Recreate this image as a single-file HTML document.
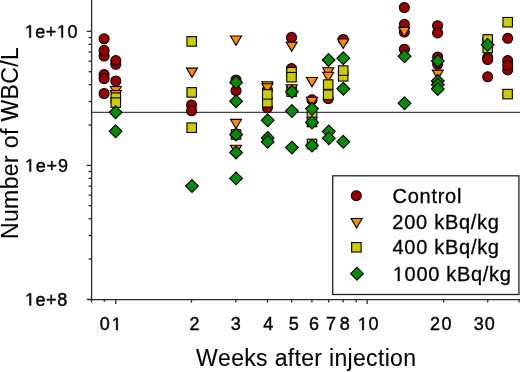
<!DOCTYPE html>
<html><head><meta charset="utf-8"><title>WBC</title>
<style>
html,body{margin:0;padding:0;background:#fff;}
body{width:520px;height:372px;overflow:hidden;font-family:"Liberation Sans",sans-serif;}
svg{display:block;will-change:transform;}
</style></head><body>
<svg width="520" height="372" viewBox="0 0 520 372" font-family="&quot;Liberation Sans&quot;, sans-serif" fill="#000" style="font-kerning:none"><g stroke="#2a2a2a" stroke-width="1.3" fill="none"><line x1="91.6" y1="0" x2="91.6" y2="302.6" /><line x1="87" y1="299.6" x2="520" y2="299.6" /><line x1="86.8" y1="299.40" x2="91.6" y2="299.40" /><line x1="86.8" y1="165.40" x2="91.6" y2="165.40" /><line x1="86.8" y1="31.40" x2="91.6" y2="31.40" /><line x1="88.6" y1="259.06" x2="91.6" y2="259.06" /><line x1="88.6" y1="235.47" x2="91.6" y2="235.47" /><line x1="88.6" y1="218.72" x2="91.6" y2="218.72" /><line x1="88.6" y1="205.74" x2="91.6" y2="205.74" /><line x1="88.6" y1="195.13" x2="91.6" y2="195.13" /><line x1="88.6" y1="186.16" x2="91.6" y2="186.16" /><line x1="88.6" y1="178.39" x2="91.6" y2="178.39" /><line x1="88.6" y1="171.53" x2="91.6" y2="171.53" /><line x1="88.6" y1="125.06" x2="91.6" y2="125.06" /><line x1="88.6" y1="101.47" x2="91.6" y2="101.47" /><line x1="88.6" y1="84.72" x2="91.6" y2="84.72" /><line x1="88.6" y1="71.74" x2="91.6" y2="71.74" /><line x1="88.6" y1="61.13" x2="91.6" y2="61.13" /><line x1="88.6" y1="52.16" x2="91.6" y2="52.16" /><line x1="88.6" y1="44.39" x2="91.6" y2="44.39" /><line x1="88.6" y1="37.53" x2="91.6" y2="37.53" /><line x1="104.3" y1="299.6" x2="104.3" y2="301.80" /><line x1="115.8" y1="299.6" x2="115.8" y2="304.10" /><line x1="191.5" y1="299.6" x2="191.5" y2="302.60" /><line x1="235.8" y1="299.6" x2="235.8" y2="302.60" /><line x1="267.5" y1="299.6" x2="267.5" y2="302.60" /><line x1="291.7" y1="299.6" x2="291.7" y2="302.60" /><line x1="311.9" y1="299.6" x2="311.9" y2="302.60" /><line x1="328.7" y1="299.6" x2="328.7" y2="302.60" /><line x1="343.1" y1="299.6" x2="343.1" y2="302.60" /><line x1="356.2" y1="299.6" x2="356.2" y2="302.60" /><line x1="367.1" y1="299.6" x2="367.1" y2="304.10" /><line x1="443.7" y1="299.6" x2="443.7" y2="302.60" /><line x1="487.7" y1="299.6" x2="487.7" y2="302.60" /><line x1="519.0" y1="299.6" x2="519.0" y2="302.60" /></g><line x1="91.6" y1="112.4" x2="520" y2="112.4" stroke="#444" stroke-width="1.1"/><g stroke="#000" stroke-width="1.1"><circle cx="104.1" cy="38.8" r="5.0" fill="#990000"/><circle cx="104.1" cy="56.0" r="5.0" fill="#990000"/><circle cx="104.1" cy="50.4" r="5.0" fill="#990000"/><circle cx="104.1" cy="74.6" r="5.0" fill="#990000"/><circle cx="104.1" cy="78.6" r="5.0" fill="#990000"/><circle cx="104.1" cy="93.5" r="5.0" fill="#990000"/><circle cx="115.8" cy="64.3" r="5.0" fill="#990000"/><circle cx="115.8" cy="60.6" r="5.0" fill="#990000"/><circle cx="115.8" cy="81.0" r="5.0" fill="#990000"/><circle cx="191.6" cy="105.0" r="5.0" fill="#990000"/><circle cx="191.6" cy="110.8" r="5.0" fill="#990000"/><circle cx="236.0" cy="80.0" r="5.0" fill="#990000"/><circle cx="236.0" cy="90.6" r="5.0" fill="#990000"/><circle cx="267.4" cy="90.0" r="5.0" fill="#990000"/><circle cx="267.4" cy="107.8" r="5.0" fill="#990000"/><circle cx="291.5" cy="37.4" r="5.0" fill="#990000"/><circle cx="291.5" cy="68.6" r="5.0" fill="#990000"/><circle cx="312.0" cy="99.8" r="5.0" fill="#990000"/><circle cx="328.2" cy="98.7" r="5.0" fill="#990000"/><circle cx="343.2" cy="39.5" r="5.0" fill="#990000"/><circle cx="404.3" cy="7.6" r="5.0" fill="#990000"/><circle cx="404.3" cy="24.3" r="5.0" fill="#990000"/><circle cx="404.3" cy="32.0" r="5.0" fill="#990000"/><circle cx="404.4" cy="49.2" r="5.0" fill="#990000"/><circle cx="437.6" cy="25.7" r="5.0" fill="#990000"/><circle cx="437.6" cy="32.9" r="5.0" fill="#990000"/><circle cx="437.7" cy="57.0" r="5.0" fill="#990000"/><circle cx="437.7" cy="64.3" r="5.0" fill="#990000"/><circle cx="487.7" cy="39.5" r="5.0" fill="#990000"/><circle cx="487.7" cy="57.5" r="5.0" fill="#990000"/><circle cx="487.7" cy="59.5" r="5.0" fill="#990000"/><circle cx="487.7" cy="76.8" r="5.0" fill="#990000"/><circle cx="507.7" cy="38.3" r="5.0" fill="#990000"/><circle cx="507.7" cy="60.6" r="5.0" fill="#990000"/><circle cx="507.7" cy="69.9" r="5.0" fill="#990000"/><circle cx="507.7" cy="65.3" r="5.0" fill="#990000"/><rect x="286.85" y="86.85" width="9.5" height="9.5" fill="#CCCC00"/><path d="M110.30,86.50L121.30,86.50L115.8,95.80Z" fill="#FF8A00"/><path d="M110.30,90.50L121.30,90.50L115.8,99.80Z" fill="#FF8A00"/><path d="M186.50,68.10L197.50,68.10L192.0,77.40Z" fill="#FF8A00"/><path d="M230.50,36.00L241.50,36.00L236.0,45.30Z" fill="#FF8A00"/><path d="M230.50,119.40L241.50,119.40L236.0,128.70Z" fill="#FF8A00"/><path d="M230.50,145.20L241.50,145.20L236.0,154.50Z" fill="#FF8A00"/><path d="M261.90,81.70L272.90,81.70L267.4,91.00Z" fill="#FF8A00"/><path d="M261.90,83.70L272.90,83.70L267.4,93.00Z" fill="#FF8A00"/><path d="M286.20,42.10L297.20,42.10L291.7,51.40Z" fill="#FF8A00"/><path d="M286.20,84.80L297.20,84.80L291.7,94.10Z" fill="#FF8A00"/><path d="M306.50,77.50L317.50,77.50L312.0,86.80Z" fill="#FF8A00"/><path d="M306.50,97.20L317.50,97.20L312.0,106.50Z" fill="#FF8A00"/><path d="M322.70,67.80L333.70,67.80L328.2,77.10Z" fill="#FF8A00"/><path d="M322.70,72.30L333.70,72.30L328.2,81.60Z" fill="#FF8A00"/><path d="M337.70,39.00L348.70,39.00L343.2,48.30Z" fill="#FF8A00"/><path d="M398.80,27.40L409.80,27.40L404.3,36.70Z" fill="#FF8A00"/><path d="M432.30,70.10L443.30,70.10L437.8,79.40Z" fill="#FF8A00"/><rect x="111.05" y="92.95" width="9.5" height="9.5" fill="#CCCC00"/><rect x="111.05" y="97.85" width="9.5" height="9.5" fill="#CCCC00"/><rect x="186.95" y="36.65" width="9.5" height="9.5" fill="#CCCC00"/><rect x="186.95" y="87.65" width="9.5" height="9.5" fill="#CCCC00"/><rect x="186.95" y="122.95" width="9.5" height="9.5" fill="#CCCC00"/><rect x="231.25" y="129.75" width="9.5" height="9.5" fill="#CCCC00"/><rect x="262.55" y="97.55" width="9.5" height="9.5" fill="#CCCC00"/><rect x="262.55" y="89.65" width="9.5" height="9.5" fill="#CCCC00"/><rect x="286.75" y="67.45" width="9.5" height="9.5" fill="#CCCC00"/><rect x="286.75" y="72.45" width="9.5" height="9.5" fill="#CCCC00"/><rect x="307.25" y="108.75" width="9.5" height="9.5" fill="#CCCC00"/><rect x="307.25" y="117.25" width="9.5" height="9.5" fill="#CCCC00"/><rect x="307.25" y="139.25" width="9.5" height="9.5" fill="#CCCC00"/><rect x="323.45" y="79.85" width="9.5" height="9.5" fill="#CCCC00"/><rect x="323.45" y="89.95" width="9.5" height="9.5" fill="#CCCC00"/><rect x="338.45" y="71.55" width="9.5" height="9.5" fill="#CCCC00"/><rect x="338.45" y="65.85" width="9.5" height="9.5" fill="#CCCC00"/><rect x="482.95" y="34.75" width="9.5" height="9.5" fill="#CCCC00"/><rect x="482.95" y="43.25" width="9.5" height="9.5" fill="#CCCC00"/><rect x="502.95" y="17.45" width="9.5" height="9.5" fill="#CCCC00"/><rect x="502.85" y="89.35" width="9.5" height="9.5" fill="#CCCC00"/><path d="M115.6,105.90L122.00,112.3L115.6,118.70L109.20,112.3Z" fill="#078C07"/><path d="M115.6,124.90L122.00,131.3L115.6,137.70L109.20,131.3Z" fill="#078C07"/><path d="M192.0,179.60L198.40,186.0L192.0,192.40L185.60,186.0Z" fill="#078C07"/><path d="M236.1,76.00L242.50,82.4L236.1,88.80L229.70,82.4Z" fill="#078C07"/><path d="M236.1,94.90L242.50,101.3L236.1,107.70L229.70,101.3Z" fill="#078C07"/><path d="M236.1,128.10L242.50,134.5L236.1,140.90L229.70,134.5Z" fill="#078C07"/><path d="M236.1,146.10L242.50,152.5L236.1,158.90L229.70,152.5Z" fill="#078C07"/><path d="M236.1,172.00L242.50,178.4L236.1,184.80L229.70,178.4Z" fill="#078C07"/><path d="M267.7,113.90L274.10,120.3L267.7,126.70L261.30,120.3Z" fill="#078C07"/><path d="M267.7,131.50L274.10,137.9L267.7,144.30L261.30,137.9Z" fill="#078C07"/><path d="M267.7,135.40L274.10,141.8L267.7,148.20L261.30,141.8Z" fill="#078C07"/><path d="M291.9,85.40L298.30,91.8L291.9,98.20L285.50,91.8Z" fill="#078C07"/><path d="M291.9,104.60L298.30,111.0L291.9,117.40L285.50,111.0Z" fill="#078C07"/><path d="M291.9,141.20L298.30,147.6L291.9,154.00L285.50,147.6Z" fill="#078C07"/><path d="M312.0,102.40L318.40,108.8L312.0,115.20L305.60,108.8Z" fill="#078C07"/><path d="M312.0,116.10L318.40,122.5L312.0,128.90L305.60,122.5Z" fill="#078C07"/><path d="M312.0,139.20L318.40,145.6L312.0,152.00L305.60,145.6Z" fill="#078C07"/><path d="M328.6,53.60L335.00,60.0L328.6,66.40L322.20,60.0Z" fill="#078C07"/><path d="M328.8,125.10L335.20,131.5L328.8,137.90L322.40,131.5Z" fill="#078C07"/><path d="M328.8,131.90L335.20,138.3L328.8,144.70L322.40,138.3Z" fill="#078C07"/><path d="M343.3,51.90L349.70,58.3L343.3,64.70L336.90,58.3Z" fill="#078C07"/><path d="M343.3,82.40L349.70,88.8L343.3,95.20L336.90,88.8Z" fill="#078C07"/><path d="M343.3,135.30L349.70,141.7L343.3,148.10L336.90,141.7Z" fill="#078C07"/><path d="M404.5,49.80L410.90,56.2L404.5,62.60L398.10,56.2Z" fill="#078C07"/><path d="M404.5,96.90L410.90,103.3L404.5,109.70L398.10,103.3Z" fill="#078C07"/><path d="M437.8,54.60L444.20,61.0L437.8,67.40L431.40,61.0Z" fill="#078C07"/><path d="M437.8,74.60L444.20,81.0L437.8,87.40L431.40,81.0Z" fill="#078C07"/><path d="M437.8,78.40L444.20,84.8L437.8,91.20L431.40,84.8Z" fill="#078C07"/><path d="M437.8,82.60L444.20,89.0L437.8,95.40L431.40,89.0Z" fill="#078C07"/><path d="M487.6,38.40L494.00,44.8L487.6,51.20L481.20,44.8Z" fill="#078C07"/></g><rect x="332.7" y="175.8" width="186.2" height="118.7" fill="#fff" stroke="#222" stroke-width="1.3"/><g stroke="#000" stroke-width="1.1"><circle cx="356.3" cy="195.7" r="5.0" fill="#990000"/><path d="M351.10,218.50L362.10,218.50L356.6,227.80Z" fill="#FF8A00"/><rect x="351.65" y="242.55" width="9.5" height="9.5" fill="#CCCC00"/><path d="M357.0,267.30L363.40,273.7L357.0,280.10L350.60,273.7Z" fill="#078C07"/></g><text x="392.48" y="203.10" font-size="20" letter-spacing="0.747" stroke="#000" stroke-width="0.3">Control</text><text x="392.29" y="228.60" font-size="20" letter-spacing="0.736" stroke="#000" stroke-width="0.3">200 kBq/kg</text><text x="392.54" y="254.00" font-size="20" letter-spacing="0.709" stroke="#000" stroke-width="0.3">400 kBq/kg</text><text x="392.78" y="280.90" font-size="20" letter-spacing="0.692" stroke="#000" stroke-width="0.3">&#8199;000 kBq/kg</text><path d="M399.57,280.90 L397.81,280.90 L397.81,268.82 L394.70,271.04 L394.70,269.38 L397.95,267.14 L399.57,267.14Z" stroke="#000" stroke-width="0.3"/><text x="24.77" y="37.60" font-size="18" letter-spacing="0.520" stroke="#000" stroke-width="0.4">&#8199;e+&#8199;0</text><path d="M30.89,37.60 L29.29,37.60 L29.29,26.73 L26.50,28.72 L26.50,27.23 L29.43,25.22 L30.89,25.22ZM62.98,37.60 L61.39,37.60 L61.39,26.73 L58.59,28.72 L58.59,27.23 L61.52,25.22 L62.98,25.22Z" stroke="#000" stroke-width="0.4"/><text x="24.97" y="171.60" font-size="18" letter-spacing="0.813" stroke="#000" stroke-width="0.4">&#8199;e+9</text><path d="M31.09,171.60 L29.49,171.60 L29.49,160.73 L26.70,162.72 L26.70,161.23 L29.63,159.22 L31.09,159.22Z" stroke="#000" stroke-width="0.4"/><text x="24.97" y="305.60" font-size="18" letter-spacing="0.557" stroke="#000" stroke-width="0.4">&#8199;e+8</text><path d="M31.09,305.60 L29.49,305.60 L29.49,294.73 L26.70,296.72 L26.70,295.23 L29.63,293.22 L31.09,293.22Z" stroke="#000" stroke-width="0.4"/><text x="99.69" y="330.10" font-size="18" stroke="#000" stroke-width="0.4">0</text><text x="111.63" y="330.10" font-size="18" stroke="#000" stroke-width="0.4">&#8199;</text><path d="M117.74,330.10 L116.15,330.10 L116.15,319.23 L113.36,321.22 L113.36,319.73 L116.28,317.72 L117.74,317.72Z" stroke="#000" stroke-width="0.4"/><text x="189.54" y="330.10" font-size="18" stroke="#000" stroke-width="0.4">2</text><text x="230.65" y="330.10" font-size="18" stroke="#000" stroke-width="0.4">3</text><text x="263.30" y="330.10" font-size="18" stroke="#000" stroke-width="0.4">4</text><text x="288.66" y="330.10" font-size="18" stroke="#000" stroke-width="0.4">5</text><text x="308.88" y="330.10" font-size="18" stroke="#000" stroke-width="0.4">6</text><text x="326.04" y="330.10" font-size="18" stroke="#000" stroke-width="0.4">7</text><text x="339.69" y="330.10" font-size="18" stroke="#000" stroke-width="0.4">8</text><text x="357.67" y="330.10" font-size="18" letter-spacing="0.813" stroke="#000" stroke-width="0.4">&#8199;0</text><path d="M363.79,330.10 L362.19,330.10 L362.19,319.23 L359.40,321.22 L359.40,319.73 L362.33,317.72 L363.79,317.72Z" stroke="#000" stroke-width="0.4"/><text x="430.09" y="330.10" font-size="18" letter-spacing="1.487" stroke="#000" stroke-width="0.4">20</text><text x="473.71" y="330.10" font-size="18" letter-spacing="0.967" stroke="#000" stroke-width="0.4">30</text><text x="196.00" y="366.40" font-size="23" letter-spacing="0.326" stroke="#000" stroke-width="0.1">Weeks after injection</text><text x="-1.89" y="0.00" font-size="23" letter-spacing="0.382" stroke="#000" stroke-width="0.1" transform="translate(17.6,237.2) rotate(-90)">Number of WBC/L</text></svg>
</body></html>
